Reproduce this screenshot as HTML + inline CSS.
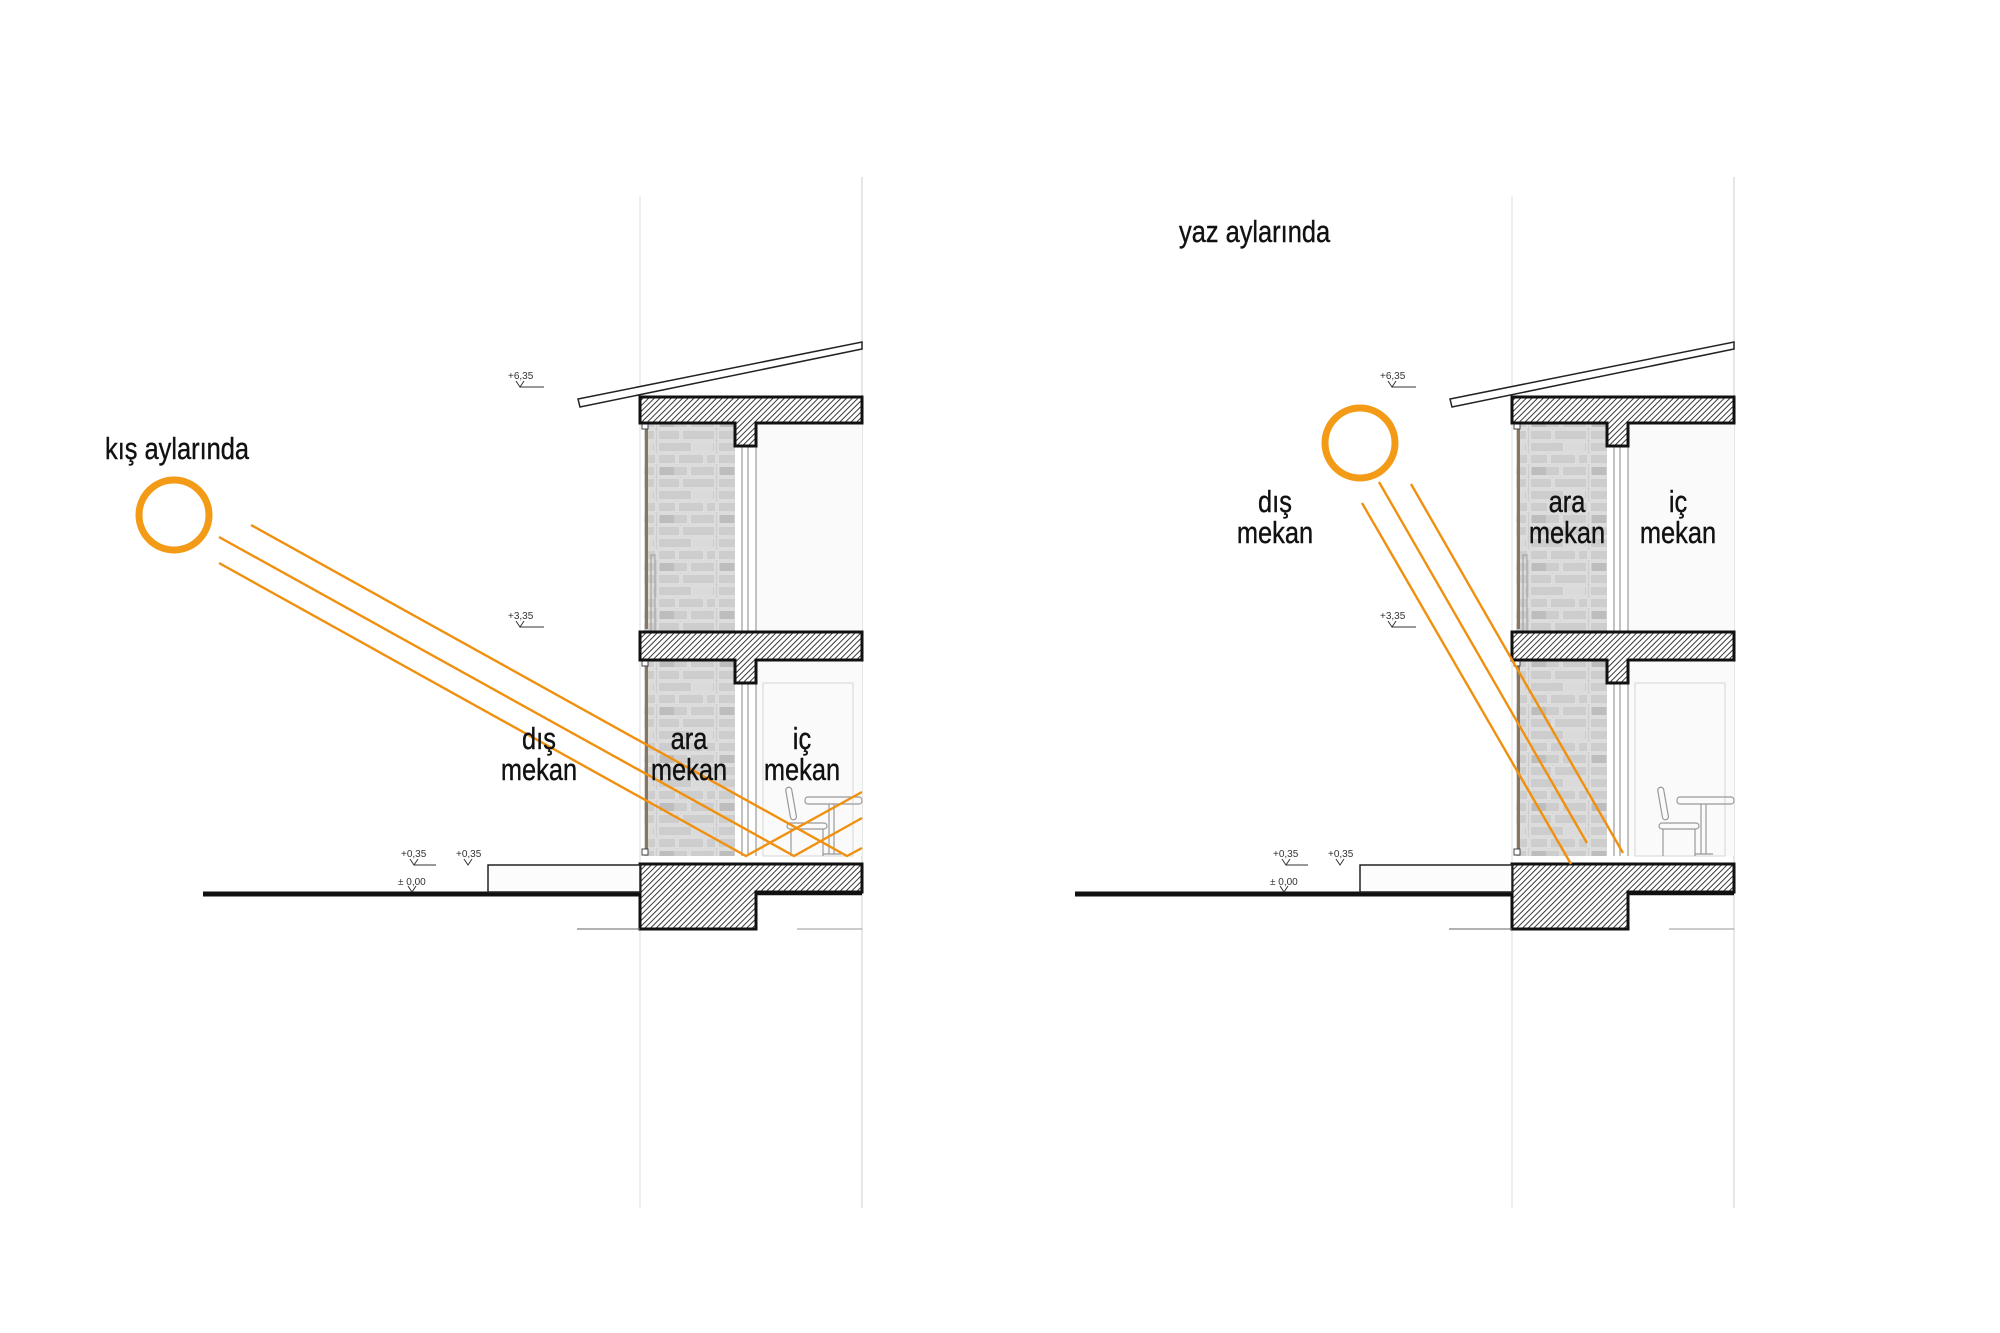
<!DOCTYPE html>
<html><head><meta charset="utf-8"><style>
html,body{margin:0;padding:0;background:#fff;}
svg{display:block;}
.lbl{font-family:"Liberation Sans",sans-serif;font-size:31px;fill:#111;stroke:#111;stroke-width:0.4;}
.lv{font-family:"Liberation Sans",sans-serif;font-size:10px;fill:#333;}
</style></head><body>
<svg width="2000" height="1333" viewBox="0 0 2000 1333" xmlns="http://www.w3.org/2000/svg">
<defs>
<pattern id="hatch" width="4" height="4" patternUnits="userSpaceOnUse" patternTransform="rotate(45)">
<rect width="4" height="4" fill="#fff"/><line x1="0" y1="0" x2="0" y2="4" stroke="#222" stroke-width="1.8"/>
</pattern>
<pattern id="stone" width="60" height="48" patternUnits="userSpaceOnUse">
<rect width="60" height="48" fill="#cdcdcd"/>
<g fill="none" stroke="#e6e6e6" stroke-width="1.2">
<rect x="1" y="1" width="22" height="10"/><rect x="25" y="1" width="33" height="10"/>
<rect x="1" y="13" width="34" height="10"/><rect x="37" y="13" width="21" height="10"/>
<rect x="1" y="25" width="18" height="10"/><rect x="21" y="25" width="26" height="10"/><rect x="49" y="25" width="10" height="10"/>
<rect x="1" y="37" width="30" height="10"/><rect x="33" y="37" width="25" height="10"/>
</g>
<rect x="36" y="14" width="20" height="8" fill="#dadada"/>
<rect x="3" y="38" width="14" height="8" fill="#bdbdbd"/>
</pattern>
<g id="bld">
<line x1="643" y1="199" x2="643" y2="1211" stroke="#ddd" stroke-width="1"/>
<line x1="865" y1="180" x2="865" y2="1211" stroke="#ddd" stroke-width="1.5"/>
<polygon points="581,402 865,345 865,352 583,410" fill="#fff" stroke="#222" stroke-width="1.5"/>
<rect x="647" y="426" width="91" height="209" fill="url(#stone)"/>
<rect x="647" y="663" width="91" height="196" fill="url(#stone)"/>
<rect x="759" y="426" width="106" height="209" fill="#fafafa"/>
<rect x="759" y="663" width="106" height="196" fill="#fafafa"/>
<rect x="766" y="686" width="90" height="173" fill="none" stroke="#ddd" stroke-width="1.2"/>
<g stroke="#999" stroke-width="1.2">
<line x1="745" y1="426" x2="745" y2="635"/><line x1="751" y1="449" x2="751" y2="635"/><line x1="759" y1="449" x2="759" y2="635"/>
<line x1="745" y1="663" x2="745" y2="859"/><line x1="751" y1="686" x2="751" y2="859"/><line x1="759" y1="686" x2="759" y2="859"/>
</g>
<rect x="648" y="432" width="3" height="200" fill="#8a7560"/>
<rect x="648" y="668" width="3" height="188" fill="#8a7560"/>
<rect x="654" y="558" width="4" height="76" fill="none" stroke="#999" stroke-width="1"/>
<rect x="645" y="426" width="6" height="6" fill="#fff" stroke="#444"/>
<rect x="645" y="663" width="6" height="6" fill="#fff" stroke="#444"/>
<rect x="645" y="852" width="6" height="6" fill="#fff" stroke="#444"/>
<path d="M643,400 H865 V426 H759 V449 H738 V426 H643 Z" fill="url(#hatch)" stroke="#111" stroke-width="3"/>
<path d="M643,635 H865 V663 H759 V686 H738 V663 H643 Z" fill="url(#hatch)" stroke="#111" stroke-width="3"/>
<path d="M643,867 H865 V895 H759 V932 H643 Z" fill="url(#hatch)" stroke="#111" stroke-width="3"/>
<line x1="759" y1="897" x2="865" y2="897" stroke="#111" stroke-width="2.5"/>
<line x1="206" y1="897" x2="643" y2="897" stroke="#111" stroke-width="5"/>
<rect x="491" y="868" width="152" height="27" fill="#fcfcfc" stroke="#222" stroke-width="1.5"/>
<line x1="580" y1="932" x2="643" y2="932" stroke="#666" stroke-width="1"/>
<line x1="800" y1="932" x2="865" y2="932" stroke="#999" stroke-width="1"/>
<g fill="none" stroke="#999" stroke-width="1.2">
<rect x="791" y="790" width="6" height="33" rx="3" transform="rotate(-10 794 806)"/>
<rect x="790" y="826" width="40" height="6" rx="3"/>
<line x1="794" y1="832" x2="794" y2="859"/><line x1="826" y1="832" x2="826" y2="859"/>
<rect x="808" y="800" width="57" height="7" rx="3"/>
<line x1="832" y1="807" x2="832" y2="857"/><line x1="837" y1="807" x2="837" y2="857"/>
<line x1="826" y1="857" x2="844" y2="857"/>
</g>
<g stroke="#333" stroke-width="1" fill="none">
<path d="M519,384 L523,390 L527,384 M523,390 H547"/>
<path d="M519,624 L523,630 L527,624 M523,630 H547"/>
<path d="M413,862 L417,868 L421,862 M417,868 H439"/>
<path d="M467,862 L471,868 L475,862"/>
<path d="M411,889 L415,895 L419,889"/>
</g>
<text class="lv" x="511" y="382">+6,35</text>
<text class="lv" x="511" y="622">+3,35</text>
<text class="lv" x="404" y="860">+0,35</text>
<text class="lv" x="459" y="860">+0,35</text>
<text class="lv" x="401" y="888">± 0,00</text>
</g>
</defs>
<g transform="translate(-3,-3)">
<use href="#bld"/>
<use href="#bld" transform="translate(872,0)"/>

<text class="lbl" x="108" y="462" transform="translate(108,0) scale(0.82,1) translate(-108,0)">kış aylarında</text>
<circle cx="177" cy="518" r="35" fill="none" stroke="#F39A16" stroke-width="7"/>
<g stroke="#F0900F" stroke-width="2.4" fill="none">
<polyline points="254,528 850,859 865,851"/>
<polyline points="222,540 797,859 865,821"/>
<polyline points="222,566 749,859 865,795"/>
</g>
<g class="lbl" text-anchor="middle">
<text x="542" y="752" transform="translate(542,0) scale(0.82,1) translate(-542,0)">dış</text>
<text x="542" y="783" transform="translate(542,0) scale(0.82,1) translate(-542,0)">mekan</text>
<text x="692" y="752" transform="translate(692,0) scale(0.82,1) translate(-692,0)">ara</text>
<text x="692" y="783" transform="translate(692,0) scale(0.82,1) translate(-692,0)">mekan</text>
<text x="805" y="752" transform="translate(805,0) scale(0.82,1) translate(-805,0)">iç</text>
<text x="805" y="783" transform="translate(805,0) scale(0.82,1) translate(-805,0)">mekan</text>
</g>

<text class="lbl" x="1182" y="245" transform="translate(1182,0) scale(0.82,1) translate(-1182,0)">yaz aylarında</text>
<circle cx="1363" cy="446" r="35" fill="none" stroke="#F39A16" stroke-width="7"/>
<g stroke="#F0900F" stroke-width="2.4" fill="none">
<line x1="1414" y1="487" x2="1626" y2="856"/>
<line x1="1382" y1="485" x2="1590" y2="846"/>
<line x1="1365" y1="506" x2="1574" y2="867"/>
</g>
<g class="lbl" text-anchor="middle">
<text x="1278" y="515" transform="translate(1278,0) scale(0.82,1) translate(-1278,0)">dış</text>
<text x="1278" y="546" transform="translate(1278,0) scale(0.82,1) translate(-1278,0)">mekan</text>
<text x="1570" y="515" transform="translate(1570,0) scale(0.82,1) translate(-1570,0)">ara</text>
<text x="1570" y="546" transform="translate(1570,0) scale(0.82,1) translate(-1570,0)">mekan</text>
<text x="1681" y="515" transform="translate(1681,0) scale(0.82,1) translate(-1681,0)">iç</text>
<text x="1681" y="546" transform="translate(1681,0) scale(0.82,1) translate(-1681,0)">mekan</text>
</g>
</g>
</svg>
</body></html>
